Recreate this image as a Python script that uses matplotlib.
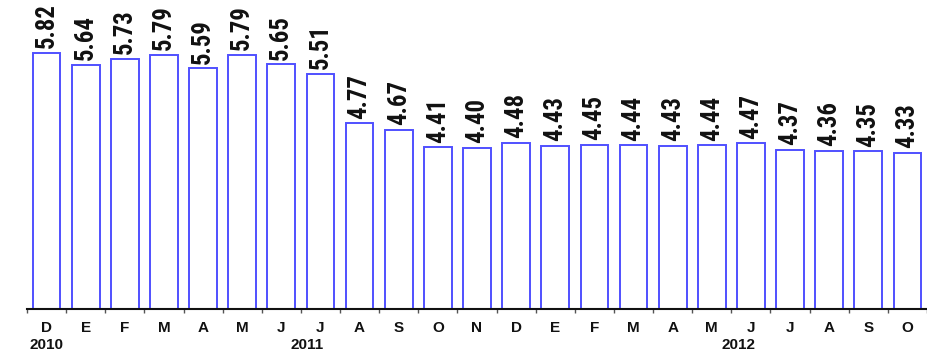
import matplotlib
matplotlib.use("Agg")
import matplotlib.pyplot as plt
from matplotlib import font_manager

# Monthly rate, Dec 2010 - Oct 2012
months = ["D", "E", "F", "M", "A", "M", "J", "J", "A", "S", "O", "N",
          "D", "E", "F", "M", "A", "M", "J", "J", "A", "S", "O"]
values = [5.82, 5.64, 5.73, 5.79, 5.59, 5.79, 5.65, 5.51, 4.77, 4.67, 4.41, 4.40,
          4.48, 4.43, 4.45, 4.44, 4.43, 4.44, 4.47, 4.37, 4.36, 4.35, 4.33]
years = ["2010", "2011", "2012"]
year_pos = [0, 6.66, 17.68]

# narrow face for the value labels if one is installed
names = [f.name for f in font_manager.fontManager.ttflist]
lab_family = "Liberation Sans"
for cand in ["Liberation Sans Narrow", "Roboto Condensed", "Open Sans Condensed"]:
    if cand in names:
        lab_family = cand
        break

fig = plt.figure(figsize=(9.27, 3.55), dpi=100)
ax = fig.add_axes([27 / 927, 46 / 355, 1 - 27 / 927, 309 / 355])

x = list(range(len(values)))
ax.bar(x, [v - 2 for v in values], bottom=2, width=0.71,
       facecolor="white", edgecolor="#5050ff", linewidth=1.4)

ax.set_xlim(-0.5, 22.45)
ax.set_ylim(2, 6.61)

labels = []
for xi, v in zip(x, values):
    labels.append(ax.text(xi, v + 0.07, f"{v:.2f}", rotation=90, ha="center",
                          va="bottom", fontweight="bold", color="#111111",
                          family=lab_family, fontsize=18))

# size the labels so a label runs about 45 px
renderer = fig.canvas.get_renderer()
h = labels[0].get_window_extent(renderer).height
fs = min(21, 18 * 45 / h)
for t in labels:
    t.set_fontsize(fs)

for s in ["top", "right", "left"]:
    ax.spines[s].set_visible(False)
ax.spines["bottom"].set_linewidth(1.5)
ax.spines["bottom"].set_color("#111111")
ax.set_yticks([])

# ticks between bars, labels under bars
ax.set_xticks([i - 0.5 for i in range(len(values) + 1)])
ax.set_xticklabels([])
ax.tick_params(axis="x", direction="out", length=3, width=1, color="#555555")
for xi, m in zip(x, months):
    ax.text(xi, -0.038, m, transform=ax.get_xaxis_transform(), ha="center", va="top",
            fontsize=11, fontweight="bold", family="Liberation Sans", color="#111111")
for xp, y in zip(year_pos, years):
    ax.text(xp, -0.095, y, transform=ax.get_xaxis_transform(), ha="center", va="top",
            fontsize=11, fontweight="bold", family="Liberation Sans", color="#111111")

fig.savefig("out.png", dpi=100)
